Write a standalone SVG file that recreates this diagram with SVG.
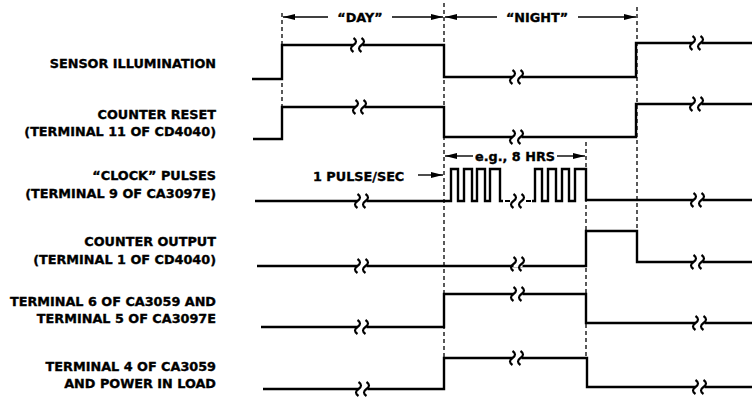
<svg xmlns="http://www.w3.org/2000/svg" xmlns:xlink="http://www.w3.org/1999/xlink" width="752" height="399" viewBox="0 0 752 399">
<style>
text{font-family:"DejaVu Sans","Liberation Sans",Arial,sans-serif;font-weight:bold;font-size:12.8px;fill:#000;stroke:#000;stroke-width:0.35}
.lbl{text-anchor:end}
.mid{text-anchor:middle}
.sig{fill:none;stroke:#000;stroke-width:2.4;stroke-linejoin:miter}
.dash{fill:none;stroke:#000;stroke-width:1.3;stroke-dasharray:4 3}
.arr{fill:none;stroke:#000;stroke-width:1.4;marker-end:url(#ah)}
</style>
<defs>
<marker id="ah" markerUnits="userSpaceOnUse" markerWidth="13" markerHeight="8" refX="12" refY="4" orient="auto">
<path d="M0,1 L12,4 L0,7 Z" fill="#000"/>
</marker>
<g id="brk">
<rect x="-4.5" y="-3" width="9" height="6" fill="#fff"/>
<path d="M-4.5,-7 q5,3.5 0,7 q-5,3.5 0,7 M3.5,-7 q5,3.5 0,7 q-5,3.5 0,7" fill="none" stroke="#000" stroke-width="2.2"/>
</g>
</defs>
<rect width="752" height="399" fill="#fff"/>

<g id="connectors">
<line class="dash" x1="282" y1="13" x2="282" y2="107"/>
<line class="dash" x1="444" y1="3" x2="444" y2="358"/>
<line class="dash" x1="637" y1="7" x2="637" y2="231"/>
<line class="dash" x1="586" y1="142" x2="586" y2="358"/>
<line class="arr" x1="328" y1="17" x2="283" y2="17"/>
<line class="arr" x1="392" y1="17" x2="443" y2="17"/>
<line class="arr" x1="497" y1="17" x2="445" y2="17"/>
<line class="arr" x1="578" y1="17" x2="636" y2="17"/>
<line class="arr" x1="473" y1="156" x2="445" y2="156"/>
<line class="arr" x1="557" y1="156" x2="585" y2="156"/>
<line class="arr" x1="418" y1="175" x2="443" y2="175"/>
</g>

<g id="period-labels">
<text class="mid" x="360" y="22">“DAY”</text>
<text class="mid" x="537" y="22">“NIGHT”</text>
<text class="mid" x="515" y="161">e.g., 8 HRS</text>
<text x="313" y="181">1 PULSE/SEC</text>
</g>

<g id="sensor-illumination">
<text class="lbl" x="216" y="68">SENSOR ILLUMINATION</text>
<path class="sig" d="M252,79 H282 V45 H444 V77 H636 V43 H752"/>
<use xlink:href="#brk" x="358" y="45"/>
<use xlink:href="#brk" x="517" y="77"/>
<use xlink:href="#brk" x="697" y="43"/>
</g>

<g id="counter-reset">
<text class="lbl" x="216" y="119">COUNTER RESET</text>
<text class="lbl" x="216" y="136">(TERMINAL 11 OF CD4040)</text>
<path class="sig" d="M253,139 H282 V107 H444 V137 H636 V104 H752"/>
<use xlink:href="#brk" x="360" y="107"/>
<use xlink:href="#brk" x="517" y="137"/>
<use xlink:href="#brk" x="697" y="104"/>
</g>

<g id="clock-pulses">
<text class="lbl" x="216" y="180">“CLOCK” PULSES</text>
<text class="lbl" x="216" y="198">(TERMINAL 9 OF CA3097E)</text>
<path class="sig" stroke-width="2" d="M255,201 H451 V169 H458 V201 H464 V169 H472 V201 H477 V169 H485 V201 H490 V169 H500 V201 H535 V169 H542 V201 H548 V169 H556 V201 H562 V169 H569 V201 H575 V169 H586 V200 H752"/>
<use xlink:href="#brk" x="362" y="201"/>
<rect x="503" y="198" width="29" height="6" fill="#fff"/>
<path d="M505,201 H510 M526,201 H531" stroke="#000" stroke-width="2"/>
<use xlink:href="#brk" x="518" y="201"/>
<use xlink:href="#brk" x="698" y="200"/>
</g>

<g id="counter-output">
<text class="lbl" x="216" y="246">COUNTER OUTPUT</text>
<text class="lbl" x="216" y="264">(TERMINAL 1 OF CD4040)</text>
<path class="sig" d="M257,266 H586 V231 H637 V262 H752"/>
<use xlink:href="#brk" x="362" y="266"/>
<use xlink:href="#brk" x="518" y="264"/>
<use xlink:href="#brk" x="698" y="262"/>
</g>

<g id="terminal-6">
<text class="lbl" x="216" y="306">TERMINAL 6 OF CA3059 AND</text>
<text class="lbl" x="216" y="323">TERMINAL 5 OF CA3097E</text>
<path class="sig" d="M261,327 H444 V294 H586 V323 H752"/>
<use xlink:href="#brk" x="362" y="327"/>
<use xlink:href="#brk" x="518" y="294"/>
<use xlink:href="#brk" x="700" y="323"/>
</g>

<g id="terminal-4">
<text class="lbl" x="216" y="371">TERMINAL 4 OF CA3059</text>
<text class="lbl" x="216" y="388">AND POWER IN LOAD</text>
<path class="sig" d="M263,389 H444 V358 H587 V387 H752"/>
<use xlink:href="#brk" x="363" y="389"/>
<use xlink:href="#brk" x="517" y="358"/>
<use xlink:href="#brk" x="700" y="387"/>
</g>
</svg>
